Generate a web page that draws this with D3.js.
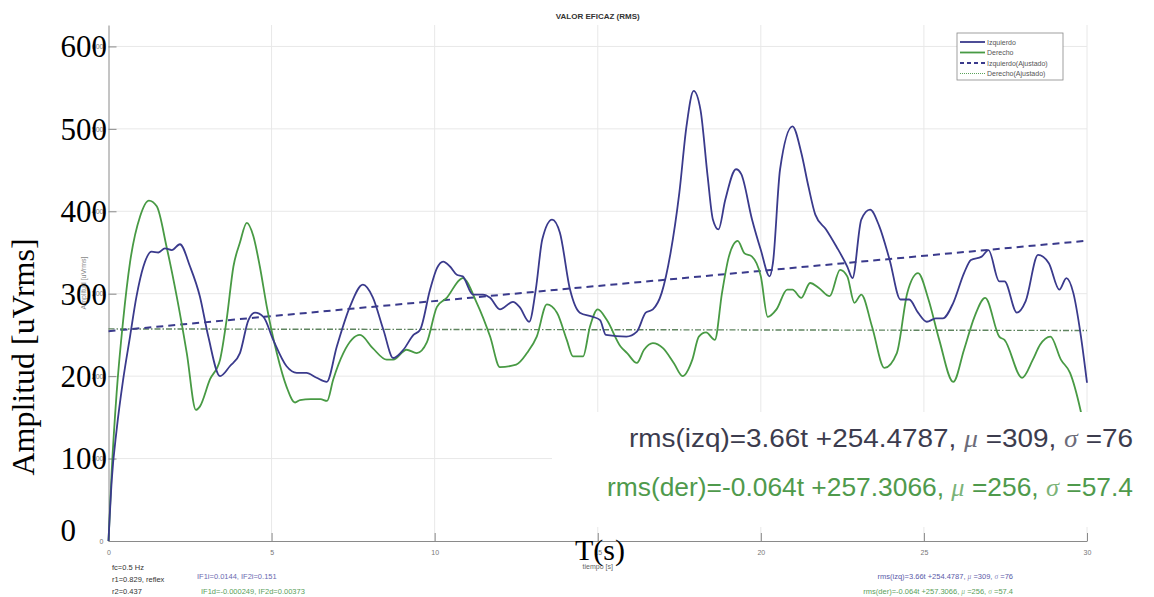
<!DOCTYPE html>
<html>
<head>
<meta charset="utf-8">
<script src="https://cdn.jsdelivr.net/npm/d3@7"></script>
<style>
  body { margin: 0; background: #fff; }
  svg { display: block; }
</style>
</head>
<body>
<div id="chart"></div>
<script>
// values
const izqTime = [0, 0.1, 0.25, 0.45, 0.66, 0.86, 1.07, 1.32, 1.53, 1.73, 1.94, 2.19, 2.5, 2.8, 3.06, 3.42, 3.72, 4.03, 4.29, 4.49, 4.75, 5.05, 5.46, 5.77, 6.07, 6.38, 6.69, 7.0, 7.4, 7.8, 8.1, 8.43, 8.73, 9.04, 9.35, 9.55, 9.86, 10.07, 10.26, 10.47, 10.68, 10.86, 11.17, 11.48, 11.7, 12.0, 12.4, 12.6, 12.9, 13.1, 13.3, 13.6, 13.84, 14.15, 14.45, 14.85, 15.07, 15.25, 15.88, 16.2, 16.47, 16.69, 16.96, 17.23, 17.5, 17.72, 17.94, 18.15, 18.37, 18.53, 18.7, 18.91, 19.24, 19.4, 19.73, 20.0, 20.27, 20.37, 20.59, 20.97, 21.24, 21.46, 21.67, 22.0, 22.32, 22.65, 22.81, 23.08, 23.35, 23.63, 23.95, 24.28, 24.55, 24.82, 25.09, 25.36, 25.58, 25.9, 26.23, 26.44, 26.77, 26.98, 27.31, 27.47, 27.85, 28.12, 28.5, 28.83, 29.15, 29.37, 29.58, 29.8, 30.0];
const izqRms = [0, 74, 135, 196, 248, 297, 333, 351, 350, 355, 353, 360, 333, 297, 248, 200, 212, 228, 268, 277, 272, 244, 212, 204, 204, 198, 193, 236, 284, 311, 296, 256, 222, 232, 250, 256, 305, 331, 339, 333, 323, 321, 299, 299, 295, 281, 290, 284, 266, 305, 366, 390, 374, 305, 277, 272, 268, 250, 248, 254, 277, 281, 301, 349, 422, 503, 546, 523, 442, 390, 378, 414, 451, 445, 390, 353, 321, 337, 451, 503, 471, 430, 396, 378, 357, 333, 319, 390, 402, 382, 341, 293, 293, 277, 266, 270, 270, 289, 325, 341, 345, 353, 315, 315, 277, 291, 347, 337, 305, 319, 301, 252, 192];

const derTime = [0, 0.1, 0.25, 0.45, 0.66, 0.97, 1.24, 1.48, 1.78, 2.09, 2.4, 2.68, 2.8, 3.11, 3.42, 3.62, 3.83, 4.03, 4.24, 4.44, 4.64, 4.85, 5.16, 5.46, 5.72, 5.87, 6.2, 6.5, 6.7, 6.89, 7.2, 7.71, 8.1, 8.53, 8.73, 9.14, 9.45, 9.76, 10.07, 10.37, 10.77, 10.86, 11.29, 11.7, 12.0, 12.5, 12.83, 13.13, 13.44, 13.75, 14.05, 14.24, 14.55, 14.76, 15.0, 15.28, 15.7, 15.9, 16.2, 16.42, 16.69, 17.0, 17.33, 17.6, 17.9, 18.1, 18.32, 18.59, 18.81, 19.02, 19.29, 19.5, 19.73, 20.0, 20.21, 20.48, 20.81, 20.97, 21.24, 21.51, 21.78, 22.11, 22.43, 22.65, 22.87, 23.08, 23.41, 23.79, 24.17, 24.49, 24.82, 25.14, 25.47, 25.9, 26.23, 26.55, 26.88, 27.31, 27.47, 28.01, 28.34, 28.56, 28.88, 29.2, 29.48, 29.8, 30.0];
const derRms = [0, 86, 180, 268, 338, 394, 413, 406, 357, 297, 228, 159, 163, 196, 220, 268, 333, 362, 386, 370, 333, 285, 228, 187, 168, 171, 172, 172, 170, 196, 228, 250, 234, 220, 220, 232, 228, 241, 284, 295, 317, 319, 289, 248, 211, 214, 228, 248, 287, 277, 244, 224, 224, 260, 281, 268, 236, 228, 216, 232, 240, 234, 216, 200, 220, 248, 253, 244, 301, 345, 364, 349, 345, 321, 272, 281, 305, 305, 295, 313, 307, 297, 329, 321, 289, 299, 260, 210, 228, 301, 325, 293, 244, 193, 232, 272, 295, 248, 244, 198, 220, 238, 248, 220, 204, 159, 120];

// fitted lines, values at t = 0 and t = 30
const fitTime = [0, 30];
const izqFit = [254.5, 364.3];
const derFit = [257.3, 255.4];

const xTicks = [0, 5, 10, 15, 20, 25, 30];
const yTicks = [0, 100, 200, 300, 400, 500, 600];
const bigYLabels = ['0', '100', '200', '300', '400', '500', '600'];

const legendNames = ['Izquierdo', 'Derecho', 'Izquierdo(Ajustado)', 'Derecho(Ajustado)'];
const notesLeft = ['fc=0.5 Hz', 'r1=0.829, reflex', 'r2=0.437'];
const notesIF = ['IF1i=0.0144, IF2i=0.151', 'IF1d=-0.000249, IF2d=0.00373'];
// each equation split as: before mu, mu, between, sigma, after
const fitParts = [
  ['rms(izq)=3.66t +254.4787, ', '\u03bc', ' =309, ', '\u03c3', ' =76'],
  ['rms(der)=-0.064t +257.3066, ', '\u03bc', ' =256, ', '\u03c3', ' =57.4']
];

const blue = '#3a3a8c';
const green = '#489a44';

const W = 1154, H = 597;
const sans = '"Liberation Sans", Arial, sans-serif';
const serif = '"Liberation Serif", "Times New Roman", serif';

const svg = d3.select('#chart').append('svg')
  .attr('width', W)
  .attr('height', H)
  .style('font-family', sans);

const x = d3.scaleLinear().domain([0, 30]).range([108.5, 1087]);
const y = d3.scaleLinear().domain([0, 626]).range([541, 25]);

// grid
svg.append('g').selectAll('line')
  .data(xTicks.slice(1))
  .enter().append('line')
  .attr('x1', d => x(d)).attr('x2', d => x(d))
  .attr('y1', y(626)).attr('y2', y(0))
  .attr('stroke', '#e8e8e8');
svg.append('g').selectAll('line')
  .data(yTicks.slice(1))
  .enter().append('line')
  .attr('x1', x(0)).attr('x2', x(30))
  .attr('y1', d => y(d)).attr('y2', d => y(d))
  .attr('stroke', '#e8e8e8');

// axes, MATLAB style ticks pointing inwards
const xAxis = svg.append('g')
  .attr('transform', `translate(0,${y(0)})`)
  .call(d3.axisBottom(x).tickValues(xTicks).tickSizeInner(-8).tickSizeOuter(0).tickPadding(9));
const yAxis = svg.append('g')
  .attr('transform', `translate(${x(0)},0)`)
  .call(d3.axisLeft(y).tickValues(yTicks).tickSizeInner(-8).tickSizeOuter(0).tickPadding(5));
[xAxis, yAxis].forEach(g => {
  g.select('.domain').attr('stroke', '#8a8a8a');
  g.selectAll('.tick line').attr('stroke', '#8a8a8a');
  g.selectAll('.tick text').attr('fill', '#777').style('font-size', '7px').style('font-family', sans);
});

// fitted lines
const line = d3.line().x(d => x(d[0])).y(d => y(d[1]));
svg.append('path')
  .datum(fitTime.map((t, i) => [t, derFit[i]]))
  .attr('d', line)
  .attr('fill', 'none')
  .attr('stroke', '#5f845f')
  .attr('stroke-width', 1.4)
  .attr('stroke-dasharray', '6,2,1.5,2');
svg.append('path')
  .datum(fitTime.map((t, i) => [t, izqFit[i]]))
  .attr('d', line)
  .attr('fill', 'none')
  .attr('stroke', blue)
  .attr('stroke-width', 2)
  .attr('stroke-dasharray', '7,5');

// rms curves
const curve = d3.line().x(d => x(d[0])).y(d => y(d[1])).curve(d3.curveMonotoneX);
svg.append('path')
  .datum(derTime.map((t, i) => [t, derRms[i]]))
  .attr('d', curve)
  .attr('fill', 'none')
  .attr('stroke', green)
  .attr('stroke-width', 1.8);
svg.append('path')
  .datum(izqTime.map((t, i) => [t, izqRms[i]]))
  .attr('d', curve)
  .attr('fill', 'none')
  .attr('stroke', blue)
  .attr('stroke-width', 1.8);

// title and small MATLAB labels
svg.append('text')
  .attr('x', (x(0) + x(30)) / 2).attr('y', 19)
  .attr('text-anchor', 'middle')
  .style('font-size', '8px').style('font-weight', 'bold').attr('fill', '#333')
  .text('VALOR EFICAZ (RMS)');
svg.append('text')
  .attr('x', (x(0) + x(30)) / 2).attr('y', 569)
  .attr('text-anchor', 'middle')
  .style('font-size', '7px').attr('fill', '#666')
  .text('tiempo [s]');
svg.append('text')
  .attr('transform', `translate(86,${(y(0) + y(626)) / 2}) rotate(-90)`)
  .attr('text-anchor', 'middle')
  .style('font-size', '7px').attr('fill', '#888')
  .text('Amplitud [uVrms]');

// legend
const lg = svg.append('g').attr('transform', 'translate(957,33)');
lg.append('rect').attr('width', 106).attr('height', 47)
  .attr('fill', '#fff').attr('stroke', '#888').attr('stroke-width', 0.8);
const legStyle = [
  { c: blue, dash: null, w: 1.8 },
  { c: green, dash: null, w: 1.8 },
  { c: blue, dash: '4,3', w: 1.8 },
  { c: '#5aa35a', dash: '1,1', w: 1 }
];
legendNames.forEach((name, i) => {
  const ly = 9 + i * 10.5;
  lg.append('line').attr('x1', 3).attr('x2', 28).attr('y1', ly).attr('y2', ly)
    .attr('stroke', legStyle[i].c).attr('stroke-width', legStyle[i].w)
    .attr('stroke-dasharray', legStyle[i].dash);
  lg.append('text').attr('x', 30).attr('y', ly + 2.5)
    .style('font-size', '7px').attr('fill', '#555').text(name);
});

// notes under the axis
svg.append('g').selectAll('text')
  .data(notesLeft).enter().append('text')
  .attr('x', 112).attr('y', (d, i) => 570 + i * 12)
  .style('font-size', '7.5px').attr('fill', '#333')
  .text(d => d);
svg.append('g').selectAll('text')
  .data(notesIF).enter().append('text')
  .attr('x', (d, i) => 197 + i * 4).attr('y', (d, i) => 579 + i * 15)
  .style('font-size', '7.5px').attr('fill', (d, i) => i ? '#5aa05a' : '#6a6ab0')
  .text(d => d);

function writeEquation(sel) {
  sel.each(function (parts) {
    const t = d3.select(this);
    parts.forEach((p, k) => {
      const ts = t.append('tspan').text(p);
      if (k === 1 || k === 3) ts.style('font-family', serif).style('font-style', 'italic').attr('fill-opacity', 0.75);
    });
  });
}

svg.append('g').selectAll('text')
  .data(fitParts).enter().append('text')
  .attr('x', 1013).attr('y', (d, i) => 579 + i * 15)
  .attr('text-anchor', 'end')
  .style('font-size', '7.5px').attr('fill', (d, i) => i ? '#5aa05a' : '#5a5aa8')
  .call(writeEquation);

// enlarged inset of the fit equations
svg.append('rect')
  .attr('x', 552).attr('y', 412).attr('width', W - 552).attr('height', 115)
  .attr('fill', '#fff');
svg.append('g').selectAll('text')
  .data(fitParts).enter().append('text')
  .attr('x', 1133).attr('y', (d, i) => 447 + i * 49)
  .attr('text-anchor', 'end')
  .attr('textLength', (d, i) => i ? 526 : 504)
  .attr('lengthAdjust', 'spacingAndGlyphs')
  .style('font-size', '25px')
  .attr('fill', (d, i) => i ? '#4f9a4c' : '#3c3c4e')
  .call(writeEquation);

// large overlaid serif labels
svg.append('g').selectAll('text')
  .data(yTicks).enter().append('text')
  .attr('x', d => d === 0 ? 76 : 107)
  .attr('y', d => y(d) + (d === 0 ? -11 : 0))
  .attr('dy', '0.35em')
  .attr('text-anchor', 'end')
  .style('font-family', serif).style('font-size', '31px').attr('fill', '#000')
  .text((d, i) => bigYLabels[i]);
svg.append('text')
  .attr('transform', `translate(34,357) rotate(-90)`)
  .attr('text-anchor', 'middle')
  .style('font-family', serif).style('font-size', '32px').attr('fill', '#000')
  .text('Amplitud [uVrms]');
svg.append('text')
  .attr('x', 600).attr('y', 560)
  .attr('text-anchor', 'middle')
  .style('font-family', serif).style('font-size', '30px').attr('fill', '#000')
  .text('T(s)');
</script>
</body>
</html>
